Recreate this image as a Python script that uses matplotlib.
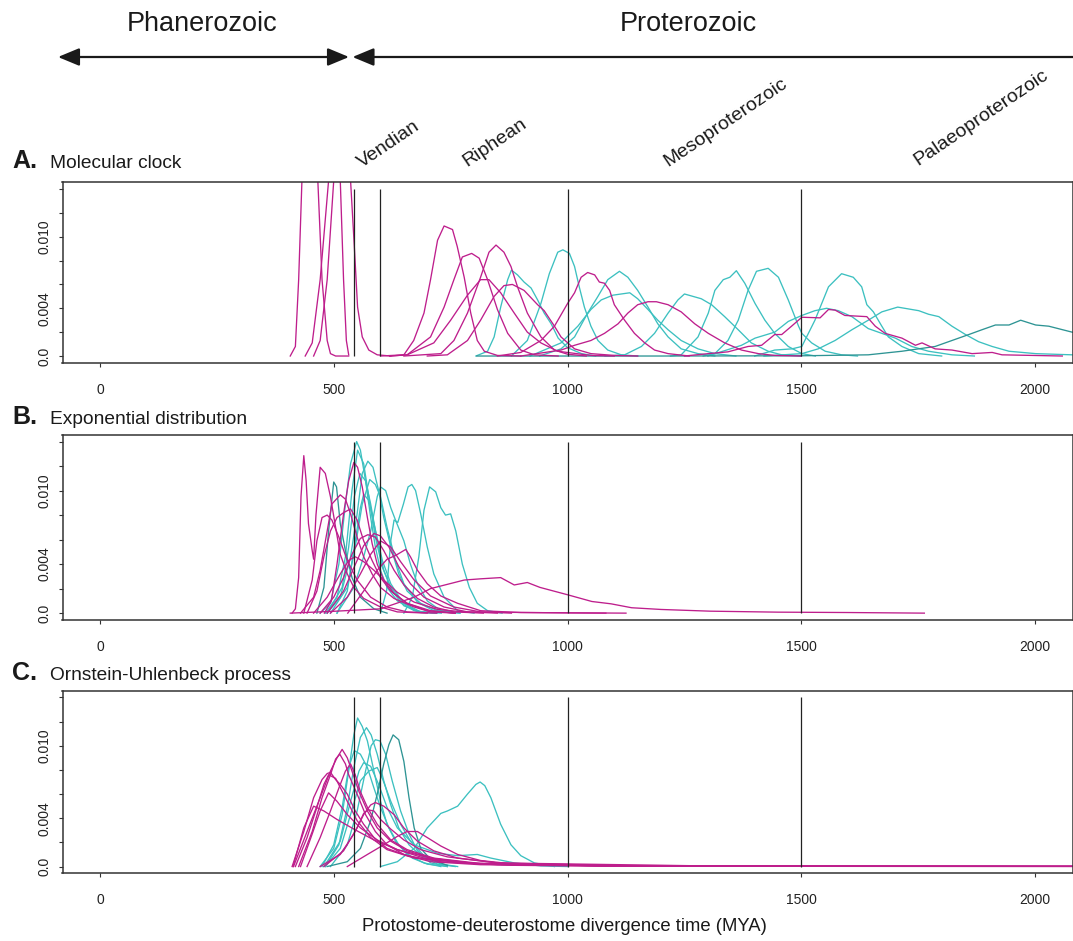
import matplotlib
matplotlib.use("Agg")
import matplotlib.pyplot as plt
from matplotlib.patches import FancyArrowPatch

plt.rcParams["font.family"] = ["Liberation Sans", "DejaVu Sans"]

# ---------------------------------------------------------------- data
# every curve: (divergence time in MYA, posterior density in units of 0.001)
DENSITY_UNIT = 1e-3

x_ticks = [0, 500, 1000, 1500, 2000]
x_tick_labels = ["0", "500", "1000", "1500", "2000"]
y_ticks = [0.0, 0.002, 0.004, 0.006, 0.008, 0.010, 0.012, 0.014]
y_tick_labels = ["0.0", "", "0.004", "", "", "0.010", "", ""]
boundaries = [543, 600, 1000, 1500]
boundary_top = 0.014

eras = ["Phanerozoic", "Proterozoic"]
periods = ["Vendian", "Riphean", "Mesoproterozoic", "Palaeoproterozoic"]
panel_letters = ["A.", "B.", "C."]
panel_titles = ["Molecular clock", "Exponential distribution", "Ornstein-Uhlenbeck process"]
x_label = "Protostome-deuterostome divergence time (MYA)"

# ---- Panel A: molecular clock
A_magenta = [
    ([407, 418, 425, 432, 449, 466, 475, 486, 493, 504, 532],
     [0, 0.8, 6.4, 14.7, 30, 14.7, 6.4, 1.3, 0.2, 0, 0]),
    ([439, 454, 471, 489, 501, 514, 521, 527, 532],
     [0, 1.1, 6.4, 14.7, 30, 14.7, 6.4, 1.3, 0.1]),
    ([457, 471, 486, 500, 518, 536, 544, 551, 561, 575, 593, 622],
     [0, 1.3, 6.4, 14.7, 30, 14.7, 9.2, 4.1, 1.6, 0.5, 0.1, 0]),
    ([600, 650, 671, 693, 707, 722, 736, 754, 764, 779, 793, 807, 822, 850, 900],
     [0, 0.1, 1.3, 3.6, 6.4, 9.7, 10.9, 10.6, 9.2, 6.6, 3.6, 1.3, 0.4, 0.05, 0]),
    ([620, 657, 707, 736, 757, 775, 795, 811, 829, 850, 872, 900, 929, 980],
     [0, 0.1, 1.6, 4.1, 6.4, 8.3, 8.6, 8.2, 6.4, 3.9, 1.9, 0.5, 0.1, 0]),
    ([650, 729, 757, 786, 814, 832, 847, 864, 879, 893, 914, 943, 972, 1000, 1040],
     [0, 0.2, 1.3, 3.6, 6.6, 8.7, 9.3, 8.7, 7.5, 5.8, 3.6, 1.6, 0.5, 0.15, 0]),
    ([620, 657, 714, 750, 786, 814, 832, 857, 886, 914, 943, 979, 1050, 1100],
     [0, 0.1, 1.1, 3.0, 5.1, 6.4, 6.4, 5.3, 3.6, 2.0, 1.1, 0.4, 0.05, 0]),
    ([700, 743, 786, 814, 843, 864, 882, 907, 936, 950, 972, 986, 1015, 1050, 1100, 1150],
     [0, 0.1, 1.3, 3.0, 5.0, 5.9, 6.0, 5.5, 4.3, 3.8, 2.5, 1.6, 0.6, 0.2, 0.05, 0]),
    ([850, 900, 943, 972, 1000, 1015, 1029, 1043, 1058, 1068, 1079, 1090, 1100, 1122, 1143, 1165, 1186, 1215, 1260],
     [0, 0.3, 1.3, 2.5, 4.4, 5.3, 6.6, 7.0, 6.8, 6.2, 6.1, 5.5, 4.3, 3.0, 1.9, 1.1, 0.5, 0.2, 0]),
    ([900, 986, 1015, 1050, 1079, 1108, 1129, 1150, 1172, 1190, 1215, 1243, 1272, 1301, 1336, 1372, 1408, 1443, 1500],
     [0, 0.5, 0.9, 1.3, 1.9, 2.7, 3.6, 4.3, 4.55, 4.55, 4.3, 3.7, 2.7, 1.9, 1.1, 0.5, 0.2, 0.05, 0]),
    ([1250, 1301, 1343, 1386, 1415, 1443, 1458, 1479, 1501, 1540, 1558, 1572, 1593, 1640, 1658, 1679, 1715, 1744, 1758, 1786, 1822, 1865, 1908, 1929, 2058],
     [0, 0.2, 0.35, 0.8, 0.9, 1.8, 1.8, 2.5, 3.25, 3.2, 3.9, 3.85, 3.4, 3.3, 2.5, 1.9, 1.5, 0.9, 1.1, 0.6, 0.5, 0.2, 0.3, 0.1, 0]),
]
A_cyan = [
    ([804, 829, 843, 857, 872, 880, 893, 907, 922, 936, 950, 965, 980, 1000, 1030, 1060],
     [0, 0.4, 1.6, 4.1, 6.4, 7.2, 6.8, 6.2, 5.7, 4.7, 3.6, 2.7, 1.5, 0.7, 0.2, 0]),
    ([880, 914, 943, 961, 979, 990, 1004, 1015, 1025, 1036, 1050, 1065, 1086, 1115, 1150],
     [0, 1.3, 4.4, 6.9, 8.7, 8.9, 8.6, 7.5, 5.8, 4.1, 2.5, 1.3, 0.5, 0.1, 0]),
    ([940, 986, 1015, 1043, 1065, 1086, 1111, 1129, 1150, 1172, 1193, 1215, 1243, 1279, 1315],
     [0, 0.6, 1.6, 3.6, 5.0, 6.4, 7.1, 6.6, 5.5, 4.1, 2.7, 1.6, 0.6, 0.2, 0]),
    ([920, 986, 1022, 1050, 1072, 1097, 1133, 1150, 1172, 1193, 1215, 1243, 1279, 1315, 1360],
     [0, 1.1, 2.5, 3.9, 4.7, 5.1, 5.3, 4.8, 3.9, 3.0, 2.2, 1.3, 0.6, 0.2, 0]),
    ([1080, 1122, 1158, 1186, 1215, 1236, 1250, 1286, 1308, 1336, 1365, 1393, 1429, 1458, 1500],
     [0, 0.1, 0.8, 1.9, 3.6, 4.7, 5.2, 4.8, 4.3, 3.3, 2.2, 1.1, 0.4, 0.1, 0]),
    ([1220, 1243, 1279, 1301, 1315, 1333, 1347, 1361, 1379, 1401, 1422, 1443, 1472, 1501, 1530],
     [0, 0.1, 1.6, 3.6, 5.5, 6.4, 6.6, 7.15, 6.1, 4.4, 3.0, 1.9, 0.8, 0.2, 0]),
    ([1290, 1315, 1343, 1365, 1386, 1404, 1429, 1451, 1472, 1494, 1501, 1522, 1551, 1586, 1620],
     [0, 0.2, 1.3, 3.0, 5.5, 7.1, 7.35, 6.6, 4.7, 2.5, 1.9, 1.1, 0.4, 0.1, 0]),
    ([1400, 1443, 1480, 1501, 1529, 1558, 1586, 1611, 1629, 1640, 1654, 1672, 1686, 1715, 1751, 1800],
     [0, 0.5, 0.6, 0.8, 3.0, 5.8, 6.9, 6.6, 5.8, 4.3, 3.7, 2.5, 1.6, 0.8, 0.2, 0]),
    ([1420, 1501, 1536, 1572, 1608, 1643, 1672, 1706, 1751, 1772, 1794, 1822, 1851, 1879, 1908, 1944, 2001, 2079],
     [0, 0.2, 0.6, 1.3, 2.2, 3.0, 3.7, 4.1, 3.8, 3.5, 3.3, 2.5, 1.8, 1.2, 0.8, 0.4, 0.2, 0.1]),
    ([1300, 1372, 1401, 1443, 1472, 1501, 1529, 1554, 1579, 1608, 1643, 1672, 1701, 1736, 1772, 1822, 1870],
     [0, 0.9, 1.5, 2.0, 2.9, 3.4, 3.8, 4.0, 3.8, 3.3, 2.3, 1.9, 1.5, 0.8, 0.4, 0.1, 0]),
]
A_teal = [
    ([806, 1200, 1501, 1643, 1715, 1786, 1822, 1858, 1886, 1915, 1944, 1969, 2001, 2029, 2079, 2100],
     [0, 0, 0.02, 0.1, 0.4, 0.8, 1.3, 1.8, 2.2, 2.6, 2.6, 3.0, 2.6, 2.5, 2.0, 1.9]),
]

# ---- Panel B: exponential distribution
B_magenta = [
    ([411, 418, 425, 430, 436, 441, 446, 454, 457, 462, 471, 482, 493, 504, 514, 529, 543, 564, 600, 636, 700],
     [0, 0.35, 2.9, 9.5, 12.85, 10.8, 7.3, 5.1, 4.4, 8.0, 11.9, 11.4, 9.5, 7.0, 4.8, 3.2, 2.1, 1.2, 0.5, 0.1, 0]),
    ([429, 457, 471, 486, 496, 514, 525, 536, 550, 564, 582, 600, 629, 672, 707, 760],
     [0, 1.3, 3.5, 6.7, 8.9, 9.65, 9.3, 8.1, 6.2, 4.6, 3.2, 2.1, 1.2, 0.5, 0.1, 0]),
    ([443, 464, 479, 493, 507, 521, 536, 550, 564, 582, 600, 622, 657, 707, 760],
     [0, 1.8, 4.6, 6.7, 7.8, 8.2, 8.5, 7.6, 5.9, 4.3, 2.9, 1.8, 0.8, 0.2, 0]),
    ([480, 495, 507, 521, 532, 543, 551, 561, 572, 582, 593, 607, 629, 657, 700, 760],
     [0, 1.0, 4.0, 8.1, 10.8, 12.3, 11.9, 10.3, 7.8, 5.7, 4.0, 2.7, 1.6, 0.8, 0.2, 0]),
    ([436, 454, 464, 475, 486, 496, 511, 529, 550, 579, 614, 657, 720],
     [0, 2.7, 5.9, 7.8, 8.0, 7.6, 6.2, 4.3, 2.7, 1.3, 0.5, 0.1, 0]),
    ([471, 500, 521, 539, 557, 573, 589, 607, 629, 650, 679, 714, 757, 820],
     [0, 1.3, 2.9, 4.8, 6.1, 6.4, 6.2, 5.1, 3.5, 2.3, 1.2, 0.5, 0.1, 0]),
    ([486, 521, 543, 564, 586, 600, 618, 639, 664, 693, 736, 786, 850],
     [0, 1.8, 3.7, 5.5, 6.5, 6.3, 5.4, 3.8, 2.4, 1.3, 0.5, 0.1, 0]),
    ([493, 529, 557, 579, 600, 622, 643, 672, 707, 757, 814, 880],
     [0, 1.3, 3.2, 4.8, 5.9, 5.4, 4.2, 2.7, 1.4, 0.5, 0.1, 0]),
    ([457, 486, 514, 532, 546, 564, 586, 607, 636, 672, 722, 779, 1000, 1082],
     [0, 1.3, 3.2, 4.3, 4.6, 4.2, 3.5, 2.7, 1.7, 0.9, 0.3, 0.1, 0.02, 0]),
    ([530, 564, 593, 614, 632, 654, 664, 679, 700, 729, 765, 814, 900, 1125],
     [0, 1.8, 3.5, 4.4, 4.7, 5.2, 4.6, 3.5, 2.4, 1.4, 0.8, 0.2, 0.05, 0]),
    ([407, 500, 600, 672, 707, 779, 814, 857, 886, 914, 941, 1000, 1052, 1093, 1137, 1200, 1305, 1450, 1600, 1763],
     [0, 0.15, 0.35, 1.3, 2.0, 2.7, 2.8, 2.9, 2.3, 2.5, 2.1, 1.5, 0.95, 0.76, 0.44, 0.3, 0.16, 0.08, 0.05, 0]),
]
B_cyan = [
    ([471, 493, 511, 525, 536, 549, 557, 568, 579, 589, 600, 614, 636, 672, 720],
     [0, 0.8, 4.0, 8.9, 12.2, 14.0, 13.3, 10.8, 7.8, 5.4, 3.5, 2.1, 1.0, 0.2, 0]),
    ([482, 507, 525, 539, 551, 564, 575, 589, 604, 622, 650, 686, 730],
     [0, 1.3, 4.6, 10.0, 13.3, 12.2, 9.5, 6.2, 3.75, 2.1, 0.8, 0.1, 0]),
    ([486, 514, 536, 550, 561, 573, 584, 596, 607, 622, 639, 657, 686, 722, 770],
     [0, 1.3, 4.6, 8.1, 11.4, 12.4, 11.9, 10.0, 7.8, 5.4, 3.2, 1.8, 0.8, 0.2, 0]),
    ([486, 518, 532, 544, 556, 568, 579, 593, 607, 625, 650, 686, 720],
     [0, 2.1, 5.4, 9.5, 11.4, 10.8, 8.9, 5.9, 3.5, 1.8, 0.6, 0.05, 0]),
    ([493, 529, 546, 561, 577, 589, 600, 614, 632, 650, 679, 714, 760],
     [0, 2.1, 5.4, 8.9, 10.9, 10.5, 9.5, 7.0, 4.3, 2.4, 0.9, 0.2, 0]),
    ([507, 543, 564, 579, 593, 600, 611, 622, 632, 650, 664, 679, 700, 729, 770],
     [0, 2.1, 4.6, 6.7, 9.5, 10.3, 10.0, 8.6, 7.6, 5.9, 4.0, 2.4, 1.0, 0.2, 0]),
    ([600, 613, 622, 629, 637, 649, 659, 667, 675, 686, 700, 714, 736, 765, 800],
     [0, 1.8, 5.9, 7.6, 7.4, 8.9, 10.3, 10.5, 10.0, 8.1, 5.4, 3.2, 1.3, 0.2, 0]),
    ([650, 668, 682, 693, 705, 718, 729, 739, 750, 761, 775, 790, 807, 829, 860],
     [0, 1.3, 4.6, 8.4, 10.3, 9.9, 8.6, 8.0, 8.1, 6.7, 4.0, 2.1, 0.8, 0.2, 0]),
    ([507, 529, 546, 557, 564, 575, 589, 604, 622, 647, 679, 720],
     [0, 1.8, 5.9, 8.6, 9.7, 9.2, 6.8, 4.3, 2.4, 0.9, 0.1, 0]),
]
B_teal = [
    ([464, 479, 489, 500, 506, 514, 525, 539, 557, 586, 614],
     [0, 2.1, 6.7, 10.7, 10.3, 7.3, 5.1, 2.9, 1.3, 0.35, 0]),
]

# ---- Panel C: Ornstein-Uhlenbeck process
C_magenta = [
    ([414, 443, 471, 493, 507, 518, 529, 539, 554, 572, 593, 622, 657, 707, 779, 886, 1093, 2080],
     [0, 2.9, 5.7, 7.9, 9.0, 9.7, 9.0, 7.9, 6.2, 4.6, 3.2, 2.1, 1.3, 0.7, 0.3, 0.1, 0.03, 0]),
    ([425, 454, 475, 493, 504, 513, 525, 532, 550, 568, 589, 614, 650, 707, 814, 1093, 2080],
     [0, 2.9, 5.7, 7.6, 8.9, 9.3, 8.5, 7.6, 6.0, 4.3, 2.9, 1.8, 1.0, 0.4, 0.15, 0.05, 0.02]),
    ([411, 436, 457, 475, 486, 493, 504, 514, 529, 546, 564, 586, 614, 657, 729, 850, 1200, 2080],
     [0, 2.9, 5.7, 7.2, 7.7, 7.8, 7.2, 6.8, 6.0, 4.6, 3.5, 2.4, 1.5, 0.9, 0.4, 0.15, 0.05, 0.02]),
    ([418, 443, 464, 479, 489, 504, 529, 550, 579, 614, 672, 779, 1093],
     [0, 2.4, 4.9, 6.8, 7.6, 7.3, 5.4, 3.8, 2.4, 1.4, 0.7, 0.3, 0.05]),
    ([429, 454, 471, 489, 507, 529, 557, 593, 636, 693, 814, 1100],
     [0, 2.7, 4.6, 6.1, 5.4, 4.3, 3.2, 2.2, 1.4, 0.7, 0.2, 0.05]),
    ([413, 436, 457, 479, 507, 543, 586, 636, 707, 814, 1200],
     [0, 3.2, 5.0, 4.6, 3.9, 3.1, 2.2, 1.4, 0.7, 0.2, 0.04]),
    ([471, 514, 543, 564, 579, 589, 607, 629, 650, 679, 714, 765, 850, 1100, 2080],
     [0, 1.0, 2.7, 4.3, 5.1, 5.3, 5.0, 4.3, 3.2, 2.1, 1.3, 0.7, 0.3, 0.08, 0.02]),
    ([479, 521, 550, 564, 573, 586, 600, 622, 650, 686, 743, 850, 1300],
     [0, 1.3, 3.2, 4.4, 4.7, 4.6, 3.9, 3.1, 2.2, 1.4, 0.8, 0.3, 0.05]),
    ([529, 572, 607, 636, 657, 679, 700, 729, 765, 814, 886, 1093, 2080],
     [0, 1.0, 1.8, 2.5, 2.9, 2.9, 2.4, 1.7, 1.0, 0.5, 0.2, 0.05, 0.02]),
    ([443, 471, 493, 511, 525, 536, 546, 557, 572, 593, 622, 657, 714, 814, 1093],
     [0, 2.4, 4.6, 6.5, 7.9, 8.5, 7.6, 6.2, 4.9, 3.5, 2.2, 1.4, 0.7, 0.25, 0.05]),
]
C_cyan = [
    ([471, 500, 518, 532, 543, 551, 561, 572, 586, 600, 614, 632, 657, 693, 729],
     [0, 1.5, 4.3, 7.9, 10.9, 12.3, 11.6, 10.4, 7.9, 5.4, 3.5, 2.1, 1.0, 0.3, 0]),
    ([482, 511, 529, 543, 557, 570, 580, 593, 607, 622, 639, 661, 686, 722, 760],
     [0, 1.8, 4.9, 8.2, 10.7, 11.5, 10.9, 9.3, 7.1, 5.1, 3.2, 1.8, 0.9, 0.2, 0]),
    ([493, 529, 550, 568, 580, 589, 599, 611, 625, 643, 661, 679, 707, 743],
     [0, 1.8, 4.6, 7.9, 10.0, 10.5, 10.4, 9.3, 7.1, 4.6, 2.7, 1.3, 0.3, 0]),
    ([475, 500, 518, 532, 544, 557, 572, 586, 600, 618, 639, 668, 700, 743],
     [0, 1.8, 4.9, 8.2, 9.6, 9.3, 8.2, 6.5, 4.9, 3.2, 1.8, 0.7, 0.2, 0]),
    ([482, 514, 536, 557, 575, 593, 604, 622, 643, 664, 693, 729, 765],
     [0, 1.5, 4.3, 7.1, 7.9, 8.2, 7.3, 5.4, 3.5, 2.1, 0.9, 0.2, 0]),
    ([600, 636, 672, 700, 729, 743, 765, 786, 804, 813, 823, 836, 857, 879, 900, 929, 972],
     [0, 0.4, 1.5, 3.2, 4.4, 4.6, 5.0, 6.0, 6.8, 7.0, 6.7, 5.7, 3.5, 1.8, 0.9, 0.3, 0]),
    ([479, 514, 536, 554, 564, 579, 596, 614, 636, 672, 722, 765, 807, 836, 886, 943, 1000],
     [0, 2.1, 5.4, 7.9, 8.6, 8.3, 6.8, 4.9, 3.2, 1.8, 1.1, 0.9, 1.0, 0.7, 0.3, 0.05, 0]),
]
C_teal = [
    ([486, 529, 557, 579, 593, 607, 618, 627, 639, 650, 661, 672, 686, 707, 743],
     [0, 0.4, 1.5, 3.8, 6.0, 8.5, 10.1, 10.9, 10.5, 8.7, 5.7, 3.2, 1.5, 0.6, 0.1]),
]

# ---------------------------------------------------------------- style
MAGENTA = "#BE1E8C"
CYAN = "#3CC0C0"
TEAL = "#2E9494"
INK = "#222222"

W, H = 1073, 941
fig = plt.figure(figsize=(W / 100, H / 100), dpi=100)


def fx(px):
    return px / W


def fy(py):
    return 1 - py / H


LEFT_PX, RIGHT_PX = 62.5, 1072.6
panel_px = [(182.3, 362.7), (434.7, 620.0), (690.7, 873.3)]
panel_data = [
    (A_cyan, A_teal, A_magenta),
    (B_cyan, B_teal, B_magenta),
    (C_cyan, C_teal, C_magenta),
]
title_baseline_px = [168, 424, 680]

for i, ((top, bot), (cy, te, mg)) in enumerate(zip(panel_px, panel_data)):
    ax = fig.add_axes([fx(LEFT_PX), fy(bot), (RIGHT_PX - LEFT_PX) / W, (bot - top) / H])
    for xs, ys in cy:
        ax.plot(xs, [v * DENSITY_UNIT for v in ys], color=CYAN, lw=0.95, solid_joinstyle="round")
    for xs, ys in te:
        ax.plot(xs, [v * DENSITY_UNIT for v in ys], color=TEAL, lw=0.95, solid_joinstyle="round")
    for xs, ys in mg:
        ax.plot(xs, [v * DENSITY_UNIT for v in ys], color=MAGENTA, lw=0.95, solid_joinstyle="round")
    ax.vlines(boundaries, 0, boundary_top, color=INK, lw=0.9)

    ax.set_xlim(-80, 2080)
    ax.set_ylim(-0.00056, 0.01456)
    ax.set_xticks(x_ticks)
    ax.set_xticklabels(x_tick_labels)
    ax.set_yticks(y_ticks)
    ax.set_yticklabels(y_tick_labels, rotation=90, va="center")
    ax.tick_params(axis="x", length=3, width=0.8, pad=11.5, labelsize=10, colors="#333333",
                   labelcolor=INK)
    ax.tick_params(axis="y", length=3.2, width=0.8, pad=4.5, labelsize=10, colors="#333333",
                   labelcolor=INK)
    for sp in ax.spines.values():
        sp.set_linewidth(1.1)
        sp.set_color("#333333")

    fig.text(fx(12), fy(title_baseline_px[i]), panel_letters[i], fontsize=18,
             fontweight="bold", ha="left", va="baseline", color="#1a1a1a")
    fig.text(fx(50), fy(title_baseline_px[i]), panel_titles[i], fontsize=13.8,
             ha="left", va="baseline", color="#1a1a1a")

# x-axis label
fig.text(fx(564), fy(931), x_label, fontsize=13.3, ha="center", va="baseline", color="#1a1a1a")

# era headers and arrows
fig.text(fx(202), fy(31), eras[0], fontsize=19.5, ha="center", va="baseline", color="#1a1a1a")
fig.text(fx(688), fy(31), eras[1], fontsize=19.5, ha="center", va="baseline", color="#1a1a1a")

arrow_y = fy(57)
fig.add_artist(FancyArrowPatch((fx(58), arrow_y), (fx(349), arrow_y), transform=fig.transFigure,
                               arrowstyle="<|-|>,head_length=0.65,head_width=0.27",
                               mutation_scale=20, lw=1.6, color="#1a1a1a",
                               shrinkA=0, shrinkB=0))
fig.add_artist(FancyArrowPatch((fx(352.5), arrow_y), (fx(1073), arrow_y), transform=fig.transFigure,
                               arrowstyle="<|-,head_length=0.65,head_width=0.27",
                               mutation_scale=20, lw=1.6, color="#1a1a1a",
                               shrinkA=0, shrinkB=0))

# period labels (rotated)
period_anchor_px = [(362, 168), (467, 167), (668, 167), (918, 166)]
for name, (px, py) in zip(periods, period_anchor_px):
    fig.text(fx(px), fy(py), name, fontsize=14, rotation=34, rotation_mode="anchor",
             ha="left", va="baseline", color="#1a1a1a")

fig.savefig("out.png", dpi=100)
